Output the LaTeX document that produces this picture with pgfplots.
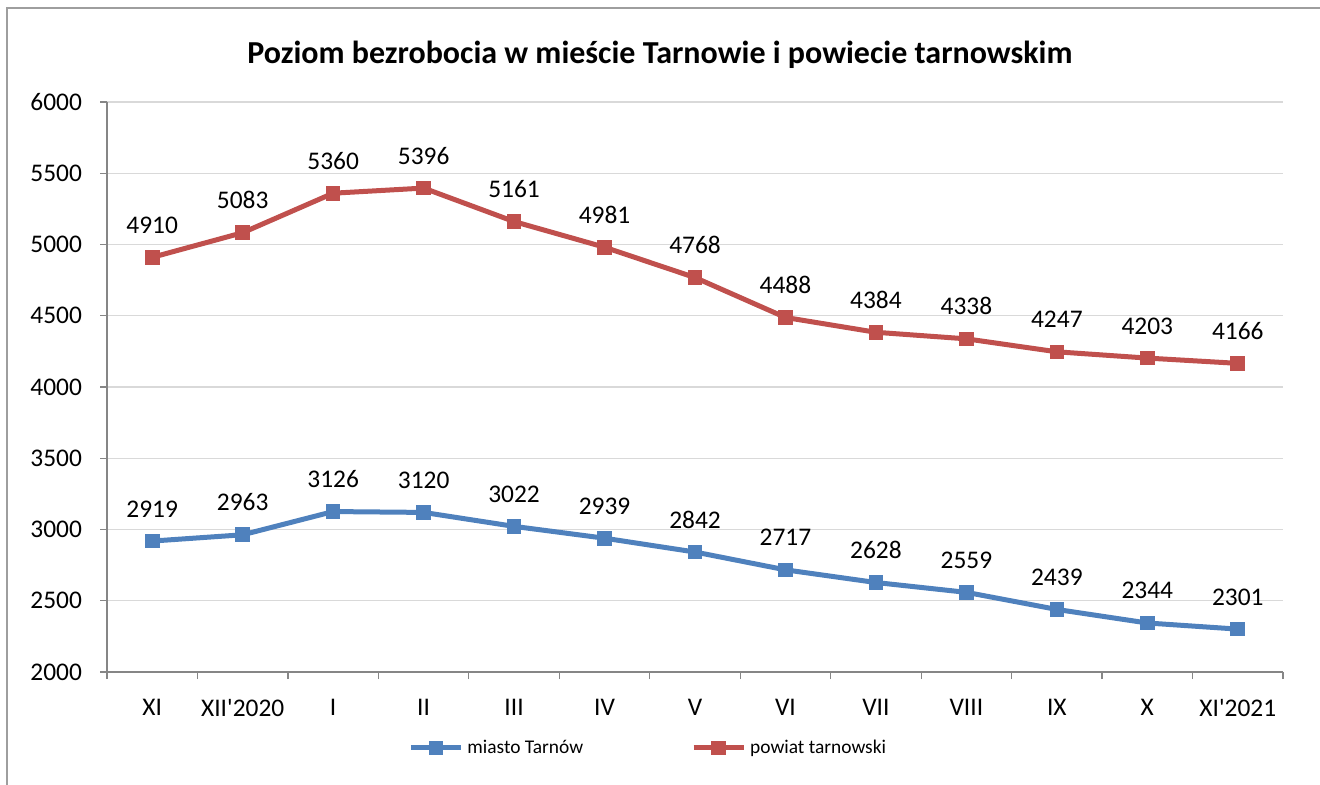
\documentclass[border=0pt]{standalone}
\usepackage{pgfplots}
\pgfplotsset{compat=1.18}
\usepackage{fontspec}
\setmainfont{Carlito}
\definecolor{sblue}{HTML}{4F81BD}
\definecolor{sred}{HTML}{C0504D}
\definecolor{axgray}{HTML}{868686}
\definecolor{grgray}{HTML}{D9D9D9}
\begin{document}
\begin{tikzpicture}
\useasboundingbox (0pt,0pt) rectangle (660pt,392pt);
\draw[axgray!80, line width=0.6pt] (3.5pt,-5pt) -- (3.5pt,388pt) -- (665pt,388pt);
\node[font=\bfseries\fontsize{16}{19}\selectfont] at (330pt,364.5pt) {Poziom bezrobocia w mieście Tarnowie i powiecie tarnowskim};
\begin{axis}[
  at={(53.5pt,56pt)}, anchor=south west,
  width=588pt, height=285pt, scale only axis,
  xmin=-0.5, xmax=12.5, ymin=2000, ymax=6000,
  ytick={2000,2500,...,6000},
  xtick={-0.5,0.5,...,12.5}, xticklabels={},
  extra x ticks={0,1,...,12},
  extra x tick labels={XI,XII\textquotesingle2020,I,II,III,IV,V,VI,VII,VIII,IX,X,XI\textquotesingle2021},
  extra x tick style={tick style={draw=none}, grid=none},
  axis x line*=bottom, axis y line*=left,
  axis line style={-, draw=axgray, line width=0.6pt},
  tick style={draw=axgray, line width=0.6pt},
  tick align=outside, major tick length=3.5pt,
  ymajorgrids, xmajorgrids=false,
  major grid style={draw=grgray, line width=0.6pt},
  /pgf/number format/assume math mode=true,
  /pgf/number format/1000 sep={},
  ticklabel style={font=\fontsize{12.7}{15}\selectfont},
  yticklabel style={xshift=-5.5pt},
  xticklabel style={yshift=-6.5pt},
  nodes near coords,
  every node near coord/.append style={font=\fontsize{12.7}{15}\selectfont, anchor=base, yshift=12pt, text=black},
  legend columns=2,
  legend style={draw=none, fill=none, at={(axis description cs:0.2509,-0.1333)}, anchor=west,
    font=\fontsize{9.7}{12}\selectfont, /tikz/every even column/.append style={column sep=52pt}},
  legend image code/.code={\draw[#1, mark repeat=2, mark phase=2] plot coordinates {(0pt,0pt) (12.5pt,0pt) (25pt,0pt)};},
]
\addplot[sblue, line width=2.5pt, mark=square*, mark size=3.4pt, mark options={solid, line width=0pt}] coordinates {
(0,2919) (1,2963) (2,3126) (3,3120) (4,3022) (5,2939) (6,2842) (7,2717) (8,2628) (9,2559) (10,2439) (11,2344) (12,2301)};
\addlegendentry{miasto Tarnów}
\addplot[sred, line width=2.5pt, mark=square*, mark size=3.4pt, mark options={solid, line width=0pt}] coordinates {
(0,4910) (1,5083) (2,5360) (3,5396) (4,5161) (5,4981) (6,4768) (7,4488) (8,4384) (9,4338) (10,4247) (11,4203) (12,4166)};
\addlegendentry{powiat tarnowski}
\end{axis}
\end{tikzpicture}
\end{document}
